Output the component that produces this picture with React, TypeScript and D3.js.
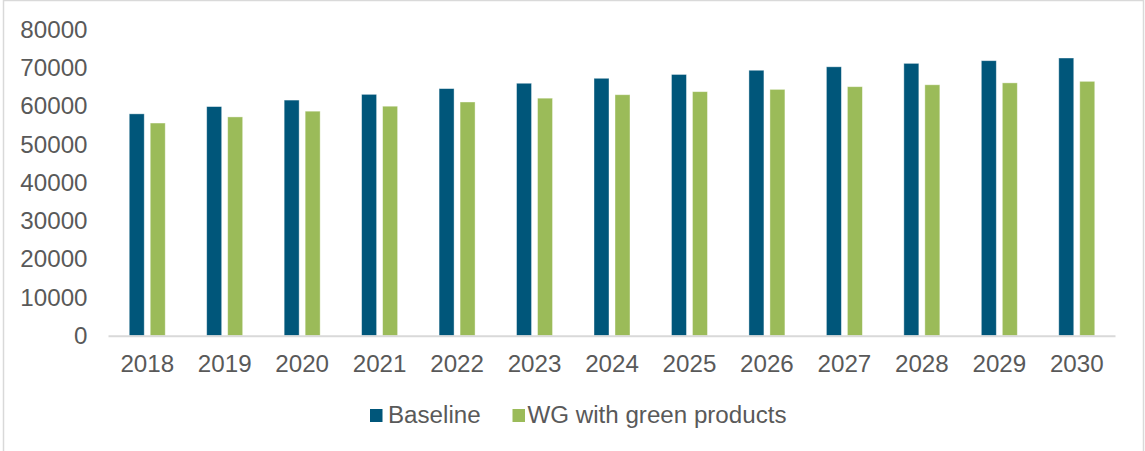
import React from "react";
import * as d3 from "d3";

// Categories and series values
const years = ["2018", "2019", "2020", "2021", "2022", "2023", "2024", "2025", "2026", "2027", "2028", "2029", "2030"];
const baseline = [58000, 59900, 61600, 63100, 64600, 66000, 67300, 68300, 69400, 70300, 71200, 71900, 72600];
const greenProducts = [55600, 57200, 58700, 60000, 61100, 62100, 63000, 63800, 64400, 65100, 65600, 66100, 66500];
const seriesNames = ["Baseline", "WG with green products"];
const yTicks = [0, 10000, 20000, 30000, 40000, 50000, 60000, 70000, 80000];

const W = 1145;
const H = 451;
const COLORS = ["#00567A", "#9BBB59"];
const TEXT = "#595959";
const FONT = "'Liberation Sans', Arial, sans-serif";
const FS = 23;
const SX = 1.05; // slightly wide lettering

type LabelProps = {
  x: number;
  y: number;
  anchor?: "start" | "middle" | "end";
  dy?: string;
  children: React.ReactNode;
};

function Label({ x, y, anchor = "start", dy, children }: LabelProps) {
  return (
    <text
      transform={`translate(${x},${y}) scale(${SX},1)`}
      dy={dy}
      textAnchor={anchor}
      fontSize={FS}
      fill={TEXT}
    >
      {children}
    </text>
  );
}

export default function App() {
  const x = d3.scaleBand<string>().domain(years).range([108.5, 1115.5]).paddingInner(0).paddingOuter(0);
  const y = d3.scaleLinear().domain([0, 80000]).range([335.7, 29.7]);

  const barW = 15;
  const gap = 6;
  const series = [baseline, greenProducts];

  const legendItems = [
    { name: seriesNames[0], sx: 370, tx: 388 },
    { name: seriesNames[1], sx: 512.5, tx: 527.5 },
  ];

  return (
    <svg
      width={W}
      height={H}
      style={{ position: "absolute", left: 0, top: 0, background: "#fff" }}
      fontFamily={FONT}
    >
      <rect x={3.5} y={0.5} width={1140} height={H + 10} fill="#fff" stroke="#d9d9d9" strokeWidth={1.5} />

      {/* y-axis tick labels */}
      {yTicks.map((t) => (
        <Label key={t} x={87.5} y={y(t)} dy="0.36em" anchor="end">
          {t}
        </Label>
      ))}

      {/* bars */}
      {years.map((yr, i) => {
        const cx = (x(yr) ?? 0) + x.bandwidth() / 2;
        return series.map((vals, s) => {
          const left = s === 0 ? cx - gap / 2 - barW : cx + gap / 2;
          return (
            <rect
              key={yr + s}
              x={left}
              y={y(vals[i])}
              width={barW}
              height={y(0) - y(vals[i])}
              fill={COLORS[s]}
              stroke="#ffffff"
              strokeOpacity={0.5}
              strokeWidth={0.8}
            />
          );
        });
      })}

      {/* category axis */}
      <line x1={108.5} x2={1115.5} y1={y(0) + 0.5} y2={y(0) + 0.5} stroke="#d9d9d9" strokeWidth={2} />
      {years.map((yr) => (
        <Label key={yr} x={(x(yr) ?? 0) + x.bandwidth() / 2} y={371.7} anchor="middle">
          {yr}
        </Label>
      ))}

      {/* legend */}
      {legendItems.map((it, i) => (
        <g key={it.name}>
          <rect x={it.sx} y={409} width={12.5} height={13} fill={COLORS[i]} />
          <Label x={it.tx} y={423}>
            {it.name}
          </Label>
        </g>
      ))}
    </svg>
  );
}
